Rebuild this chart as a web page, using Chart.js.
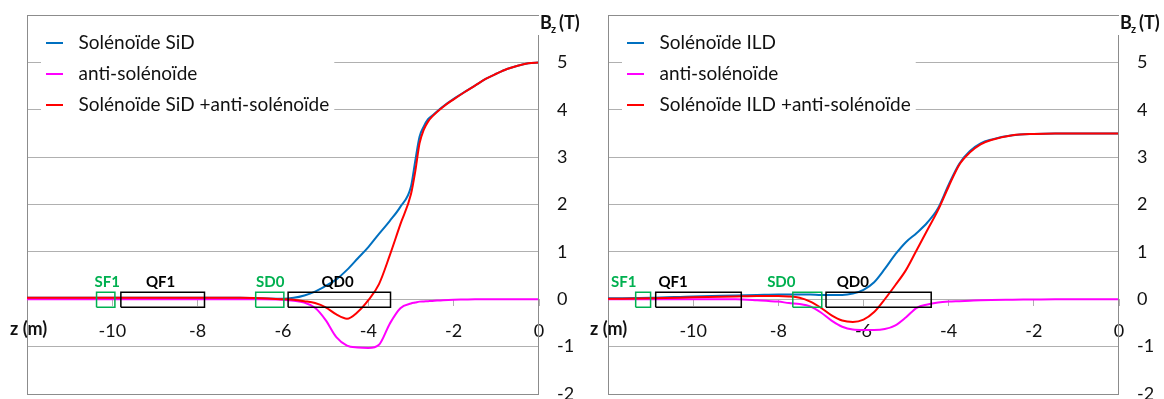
<!DOCTYPE html>
<html><head><meta charset="utf-8">
<script src="https://cdn.jsdelivr.net/npm/chart.js@4/dist/chart.umd.min.js"></script>
<style>
html,body{margin:0;padding:0;background:#fff;width:1164px;height:399px;overflow:hidden}
canvas{position:absolute;top:0}
#c1{left:0}
#c2{left:580px}
</style></head><body>
<canvas id="c1" width="580" height="399"></canvas>
<canvas id="c2" width="584" height="399"></canvas>
<script>
// ---------- DATA ----------
// Left panel : SiD
const sidZ = [-12, -11, -10, -9, -8, -7, -6.5, -6, -5.75, -5.5, -5.25, -5, -4.75, -4.5, -4.25, -4, -3.75, -3.5, -3.25, -3, -2.9, -2.8, -2.7, -2.6, -2.5, -2.25, -2, -1.75, -1.5, -1.25, -1, -0.75, -0.5, -0.25, 0];
const sidSolenoid = [0.03, 0.03, 0.03, 0.03, 0.03, 0.03, 0.02, 0.01, 0.03, 0.08, 0.16, 0.28, 0.42, 0.62, 0.86, 1.10, 1.38, 1.65, 1.95, 2.38, 2.92, 3.43, 3.65, 3.80, 3.88, 4.07, 4.23, 4.37, 4.51, 4.65, 4.76, 4.86, 4.93, 4.98, 5.00];
const sidAnti = [0, 0, 0, 0, 0, 0, 0, -0.01, -0.03, -0.07, -0.18, -0.44, -0.80, -0.98, -1.02, -1.03, -0.96, -0.52, -0.19, -0.09, -0.07, -0.05, -0.045, -0.04, -0.035, -0.02, -0.01, -0.005, 0, 0, 0, 0, 0, 0, 0];
const sidTotal = [0.03, 0.03, 0.03, 0.03, 0.03, 0.03, 0.02, 0.0, -0.01, -0.04, -0.08, -0.17, -0.32, -0.41, -0.27, -0.02, 0.32, 0.92, 1.58, 2.22, 2.70, 3.29, 3.58, 3.75, 3.86, 4.06, 4.22, 4.37, 4.51, 4.65, 4.76, 4.86, 4.93, 4.98, 5.00];
const sidLabels = ['Solénoïde SiD', 'anti-solénoïde', 'Solénoïde SiD +anti-solénoïde'];

// Right panel : ILD
const ildZ = [-12, -11, -10, -9, -8.5, -8, -7.75, -7.5, -7.25, -7, -6.75, -6.5, -6.25, -6, -5.75, -5.5, -5.25, -5, -4.75, -4.5, -4.25, -4, -3.75, -3.5, -3.25, -3, -2.5, -2, -1.5, -1, -0.5, 0];
const ildSolenoid = [0.02, 0.03, 0.06, 0.08, 0.09, 0.10, 0.10, 0.10, 0.10, 0.09, 0.09, 0.09, 0.12, 0.20, 0.36, 0.64, 0.95, 1.21, 1.40, 1.62, 1.92, 2.42, 2.86, 3.13, 3.29, 3.37, 3.46, 3.49, 3.50, 3.50, 3.50, 3.50];
const ildAnti = [0, 0, 0, 0, -0.02, -0.05, -0.08, -0.10, -0.15, -0.28, -0.45, -0.58, -0.64, -0.65, -0.65, -0.63, -0.55, -0.38, -0.18, -0.11, -0.07, -0.05, -0.04, -0.03, -0.02, -0.015, -0.01, -0.005, 0, 0, 0, 0];
const ildTotal = [0.01, 0.02, 0.04, 0.06, 0.07, 0.07, 0.06, 0.03, -0.05, -0.18, -0.34, -0.45, -0.48, -0.43, -0.27, 0.00, 0.30, 0.62, 1.04, 1.46, 1.88, 2.38, 2.84, 3.10, 3.27, 3.36, 3.46, 3.49, 3.50, 3.50, 3.50, 3.50];
const ildLabels = ['Solénoïde ILD', 'anti-solénoïde', 'Solénoïde ILD +anti-solénoïde'];

// Magnets (z in m)
const magnetNames = ['SF1', 'QF1', 'SD0', 'QD0'];
const sidMagnetStart = [-10.37, -9.80, -6.64, -5.88];
const sidMagnetEnd = [-9.94, -7.84, -5.98, -3.48];
const sidMagnetLabelZ = [-10.12, -8.87, -6.30, -4.72];
const ildMagnetStart = [-11.35, -10.88, -7.66, -6.88];
const ildMagnetEnd = [-11.0, -8.87, -6.98, -4.41];
const ildMagnetLabelZ = [-11.63, -10.47, -7.93, -6.25];
const magnetBoxBottom = -0.17, magnetBoxTop = 0.15;

// Axes
const zMin = -12, zMax = 0, zStep = 2;
const bMin = -2, bMax = 6, bStep = 1, bAxisTop = 5.57;

// ---------- STYLE ----------
const BLUE = '#0070C0', MAGENTA = '#FF00FF', RED = '#FF0000', GREEN = '#00B050';
const FRAME = '#8c8c8c', GRID = '#b0b0b0', TEXT = '#111111';
const FONT = 'Lato';
Chart.defaults.font.family = FONT;

function lineSwatch(color) {
  const c = document.createElement('canvas');
  c.width = 23; c.height = 2;
  const g = c.getContext('2d');
  g.fillStyle = color; g.fillRect(0, 0, 17, 2);
  return c;
}

const decor = {
  id: 'decor',
  afterLayout(chart) {
    const lg = chart.legend, ca = chart.chartArea;
    const h = lg.bottom - lg.top, w = lg.right - lg.left;
    lg.left = ca.left + 7; lg.right = lg.left + w;
    lg.top = ca.top + 6; lg.bottom = lg.top + h;
  },
  beforeDatasetsDraw(chart) {
    const ctx = chart.ctx, ca = chart.chartArea;
    ctx.save();
    ctx.font = '19px ' + FONT;
    let w = 0;
    chart.data.datasets.slice(0, 3).forEach(d => { w = Math.max(w, ctx.measureText(d.label).width); });
    ctx.fillStyle = '#fff';
    const x0 = ca.left + 14;
    ctx.fillRect(x0, 24, (ca.left + 19 + 32.5 + w + 5) - x0, 96);
    ctx.restore();
    chart.legend.draw();
  },
  afterDraw(chart, args, opts) {
    const ctx = chart.ctx, ca = chart.chartArea;
    const xs = chart.scales.x, ys = chart.scales.y;
    ctx.save();
    // right axis line
    ctx.strokeStyle = FRAME; ctx.lineWidth = 1;
    const ax = Math.round(ca.right) - 0.5;
    ctx.beginPath();
    ctx.moveTo(ax, Math.round(ys.getPixelForValue(bAxisTop)));
    ctx.lineTo(ax, Math.round(ca.bottom));
    ctx.stroke();
    // B_z (T)
    ctx.fillStyle = TEXT;
    ctx.textBaseline = 'alphabetic';
    ctx.textAlign = 'left';
    const bx = ca.right + 1;
    ctx.font = 'bold 18px ' + FONT;
    ctx.fillText('B', bx, 29);
    ctx.font = 'bold 11px ' + FONT;
    ctx.fillText('z', bx + 11, 33);
    ctx.font = 'bold 18px ' + FONT;
    ctx.fillText('(T)', bx + 19, 29);
    // z (m)
    const y0 = ys.getPixelForValue(0);
    ctx.font = 'bold 18px ' + FONT;
    ctx.fillText('z (m)', 10, y0 + 36);
    // magnet labels
    ctx.font = 'bold 15px ' + FONT;
    ctx.textAlign = 'center';
    const yl = ys.getPixelForValue(magnetBoxTop) - 5;
    magnetNames.forEach((n, i) => {
      ctx.fillStyle = n[0] === 'S' ? GREEN : '#000';
      ctx.fillText(n, xs.getPixelForValue(opts.labelZ[i]), yl);
    });
    ctx.restore();
  }
};

function buildChart(id, p) {
  const series = [
    {label: p.labels[0], values: p.sol, color: BLUE, order: 3},
    {label: p.labels[1], values: p.anti, color: MAGENTA, order: 2},
    {label: p.labels[2], values: p.total, color: RED, order: 1}
  ];
  const datasets = series.map(s => ({
    label: s.label,
    data: p.z.map((z, i) => ({x: z, y: s.values[i]})),
    borderColor: s.color, backgroundColor: s.color, borderWidth: 2,
    pointRadius: 0, pointHoverRadius: 0, pointStyle: lineSwatch(s.color),
    cubicInterpolationMode: 'monotone', fill: false, order: s.order
  }));
  magnetNames.forEach((n, i) => {
    const a = p.start[i], b = p.end[i];
    datasets.push({
      label: n,
      data: [{x: a, y: magnetBoxBottom}, {x: b, y: magnetBoxBottom}, {x: b, y: magnetBoxTop}, {x: a, y: magnetBoxTop}, {x: a, y: magnetBoxBottom}],
      borderColor: n[0] === 'S' ? GREEN : '#000', borderWidth: 1.5, borderJoinStyle: 'miter',
      pointRadius: 0, pointHoverRadius: 0, tension: 0, fill: false, order: 0
    });
  });
  const canvas = document.getElementById(id);
  const yWidth = canvas.width - 539;
  return new Chart(canvas, {
    type: 'line',
    data: {datasets},
    plugins: [decor],
    options: {
      responsive: false, animation: false, events: [],
      layout: {padding: {left: p.left, top: 15, right: 0, bottom: 5}},
      plugins: {
        decor: {labelZ: p.labelZ},
        tooltip: {enabled: false},
        legend: {
          position: 'chartArea', align: 'start',
          labels: {
            font: {family: FONT, size: 19}, color: TEXT,
            usePointStyle: true, pointStyleWidth: 23, padding: 12,
            filter: item => item.datasetIndex < 3,
            sort: (a, b) => a.datasetIndex - b.datasetIndex
          }
        }
      },
      scales: {
        x: {
          type: 'linear', min: zMin, max: zMax,
          position: {y: 0},
          grid: {drawOnChartArea: false, drawTicks: true, tickLength: 6, color: GRID},
          border: {display: true, color: GRID, width: 1},
          ticks: {stepSize: zStep, padding: 15, color: TEXT, font: {family: FONT, size: 18},
                  maxRotation: 0, autoSkip: false, includeBounds: false,
                  callback: v => (v === zMin ? '' : String(v))},
          afterFit: s => { s.height = 0; s.paddingLeft = 0; s.paddingRight = 0; }
        },
        y: {
          type: 'linear', min: bMin, max: bMax, position: 'right',
          grid: {drawTicks: false, color: c => (c.tick && (c.tick.value === bMin || c.tick.value === bMax)) ? FRAME : GRID, lineWidth: 1},
          border: {display: false},
          ticks: {stepSize: bStep, padding: 18, color: TEXT, font: {family: FONT, size: 18},
                  callback: v => (v === bMax ? '' : String(v))},
          afterFit: s => { s.width = yWidth; s.paddingTop = 0; s.paddingBottom = 0; }
        },
        yLeft: {
          type: 'linear', min: bMin, max: bMax, position: 'left',
          grid: {display: false, drawTicks: false},
          border: {display: true, color: FRAME, width: 1},
          ticks: {display: false},
          afterFit: s => { s.width = 0; s.paddingTop = 0; s.paddingBottom = 0; }
        }
      }
    }
  });
}

buildChart('c1', {z: sidZ, sol: sidSolenoid, anti: sidAnti, total: sidTotal, labels: sidLabels,
  start: sidMagnetStart, end: sidMagnetEnd, labelZ: sidMagnetLabelZ, left: 27});
buildChart('c2', {z: ildZ, sol: ildSolenoid, anti: ildAnti, total: ildTotal, labels: ildLabels,
  start: ildMagnetStart, end: ildMagnetEnd, labelZ: ildMagnetLabelZ, left: 28});
</script>
</body></html>
